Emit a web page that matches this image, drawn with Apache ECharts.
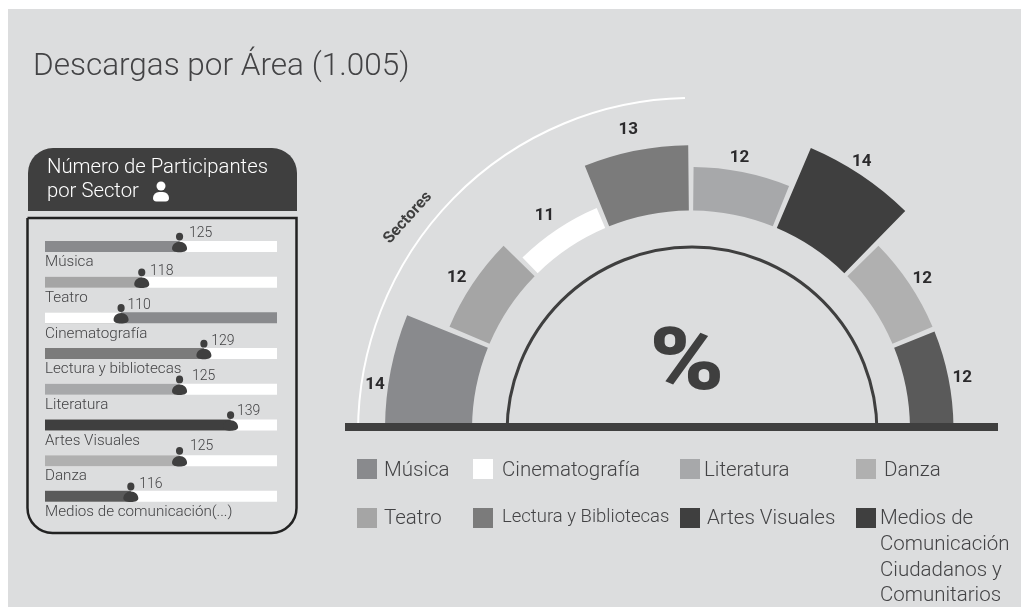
<!DOCTYPE html>
<html><head><meta charset="utf-8">
<style>html,body{margin:0;padding:0;background:#fff}#c{width:1022px;height:607px}</style>
<script src="https://cdn.jsdelivr.net/npm/echarts@6/dist/echarts.min.js"></script>
</head><body><div id="c"></div>
<script>
// Gauge data
const sectorNames = ['Música','Teatro','Cinematografía','Lectura y Bibliotecas','Literatura','Artes Visuales','Danza','Medios de Comunicación Ciudadanos y Comunitarios'];
const sectorPercent = [14,12,11,13,12,14,12,12];
const sectorColors = ['#898a8d','#a5a5a5','#ffffff','#7b7b7b','#a7a8aa','#3f3f3f','#b0b0b0','#5a5a5a'];
// Participants panel
const panelNames = ['Música','Teatro','Cinematografía','Lectura y bibliotecas','Literatura','Artes Visuales','Danza','Medios de comunicación(...)'];
const participants = [125,118,110,129,125,139,125,116];
const fillShare = [58,41.7,32.8,68.5,58,80,58,37];
const panelFill = ['#898a8d','#a5a5a5','#ffffff','#7b7b7b','#a7a8aa','#3f3f3f','#b0b0b0','#5a5a5a'];
const panelTrack = ['#ffffff','#ffffff','#898a8d','#ffffff','#ffffff','#ffffff','#ffffff','#ffffff'];

const FONT = 'Roboto';
const DARK = '#3f3f3f';
const TXT = '#434345';
const PERSON = 'path://M10 0a4.6 4.6 0 1 1-.01 0zM10 10.6c5.6 0 9.6 3.6 9.6 8 0 3.2-4 4.4-9.6 4.4S.4 21.8.4 18.6c0-4.4 4-8 9.6-8z';
const cx = 692, cy = 432;

const legendCells = [
  [357,459,384,471,0,20.5],[473,459,502,471,2,20.5],[680,459,704,471,4,20.5],[856,459,884,471,6,20.5],
  [357,508,384,519,1,20.5],[473,508,502,517,3,18.5],[680,508,707,519,5,20.5]
];
const legendGraphics = [];
legendCells.forEach(l=>{
  legendGraphics.push({type:'rect',z:5,shape:{x:l[0],y:l[1],width:20,height:20},style:{fill:sectorColors[l[4]]}});
  legendGraphics.push({type:'text',z:5,x:l[2],y:l[3],style:{text:sectorNames[l[4]],font:`300 ${l[5]}px ${FONT}`,fill:TXT,verticalAlign:'middle'}});
});
legendGraphics.push({type:'rect',z:5,shape:{x:856,y:508,width:20,height:20},style:{fill:DARK}});
['Medios de','Comunicación','Ciudadanos y','Comunitarios'].forEach((t,i)=>{
  legendGraphics.push({type:'text',z:5,x:880,y:519+i*25.7,style:{text:t,font:`300 20.5px ${FONT}`,fill:TXT,verticalAlign:'middle'}});
});

const labelOffsets = [[-4,25.5],[-6,9.5],[-6,4.5],[-5,-0.5],[-5,5.5],[-6,5.5],[3,10.5],[2,10]];
const valueOffsets = [[21,-9],[20,-7],[18,-8],[19,-8],[24,-8.5],[18,-9],[22,-10],[20,-8]];

const option = {
  backgroundColor:'#ffffff',
  animation:false,
  graphic:[
    {type:'rect',z:-1,silent:true,shape:{x:8,y:9,width:1013,height:598},style:{fill:'#dcddde'}},
    {type:'text',z:5,x:33,y:67,style:{text:'Descargas por Área (1.005)',font:`300 31.5px ${FONT}`,fill:TXT,verticalAlign:'middle'}},
    // panel
    {type:'rect',z:1,shape:{x:28,y:148,width:269,height:63,r:[25,25,0,0]},style:{fill:DARK}},
    {type:'text',z:5,x:47,y:168,style:{text:'Número de Participantes',font:`300 20.3px ${FONT}`,fill:'#fff',verticalAlign:'middle'}},
    {type:'text',z:5,x:47,y:192,style:{text:'por Sector',font:`300 20.3px ${FONT}`,fill:'#fff',verticalAlign:'middle'}},
    {type:'circle',z:5,shape:{cx:161,cy:186,r:4.5},style:{fill:'#fff'}},
    {type:'rect',z:5,shape:{x:153,y:192,width:16,height:9.5,r:[7,7,4,4]},style:{fill:'#fff'}},
    {type:'rect',z:1,shape:{x:27.5,y:218,width:269,height:315,r:[0,0,25,25]},style:{fill:'none',stroke:'#222',lineWidth:2.5}},
    // gauge decor
    {type:'arc',z:1,shape:{cx,cy,r:334,startAngle:Math.PI,endAngle:Math.PI*1.4933},style:{fill:'none',stroke:'#fff',lineWidth:2}},
    {type:'arc',z:6,shape:{cx,cy,r:185,startAngle:Math.PI,endAngle:Math.PI*2},style:{fill:'none',stroke:DARK,lineWidth:3}},
    {type:'rect',z:6,shape:{x:345,y:431,width:653,height:8},style:{fill:'#dcddde'}},
    {type:'rect',z:7,shape:{x:345,y:423,width:653,height:8},style:{fill:DARK}},
    {type:'text',z:5,x:408,y:218,rotation:0.84,style:{text:'Sectores',font:`700 16px ${FONT}`,fill:DARK,align:'center',verticalAlign:'middle'}},
    {type:'text',z:5,x:687,y:367.5,scaleX:1.05,scaleY:0.9,style:{text:'%',font:`900 96px ${FONT}`,fill:DARK,align:'center',verticalAlign:'middle'}},
    ...legendGraphics
  ],
  polar:{center:[691,429.5],radius:[219,306]},
  angleAxis:{type:'category',data:sectorNames,startAngle:180,endAngle:0,clockwise:true,boundaryGap:true,axisLine:{show:false},axisTick:{show:false},axisLabel:{show:false},splitLine:{show:false}},
  radiusAxis:{type:'value',min:10,max:14,axisLine:{show:false},axisTick:{show:false},axisLabel:{show:false},splitLine:{show:false}},
  grid:{left:45,top:228.6,width:232,height:285.6},
  xAxis:{type:'value',min:0,max:100,show:false},
  yAxis:{type:'category',inverse:true,data:panelNames,show:false},
  series:[
    {type:'bar',coordinateSystem:'polar',barCategoryGap:'5%',z:3,
      data:sectorPercent.map((v,i)=>({value:v,itemStyle:{color:sectorColors[i]},label:{offset:labelOffsets[i]}})),
      label:{show:true,position:'end',rotate:0,distance:12,fontFamily:FONT,fontWeight:700,fontSize:17,color:'#2b2a2c'}},
    {type:'bar',xAxisIndex:0,yAxisIndex:0,barWidth:11,z:2,
      data:panelNames.map((n,i)=>({value:100,itemStyle:{color:panelTrack[i]}})),
      label:{show:true,position:[0,14],formatter:p=>panelNames[p.dataIndex],fontFamily:FONT,fontWeight:300,fontSize:15.2,color:TXT}},
    {type:'bar',xAxisIndex:0,yAxisIndex:0,barWidth:11,barGap:'-100%',z:3,
      data:fillShare.map((v,i)=>({value:v,itemStyle:{color:panelFill[i]}}))},
    {type:'scatter',xAxisIndex:0,yAxisIndex:0,z:4,symbol:PERSON,symbolSize:[15,19.5],symbolOffset:[0,-4],symbolKeepAspect:false,
      itemStyle:{color:DARK,opacity:1},
      data:fillShare.map((v,i)=>({value:[v,panelNames[i]],label:{offset:valueOffsets[i]}})),
      label:{show:true,position:'inside',formatter:p=>String(participants[p.dataIndex]),fontFamily:FONT,fontWeight:300,fontSize:14,color:TXT}}
  ]
};
const chart = echarts.init(document.getElementById('c'),null,{renderer:'canvas'});
chart.setOption(option);
</script></body></html>
